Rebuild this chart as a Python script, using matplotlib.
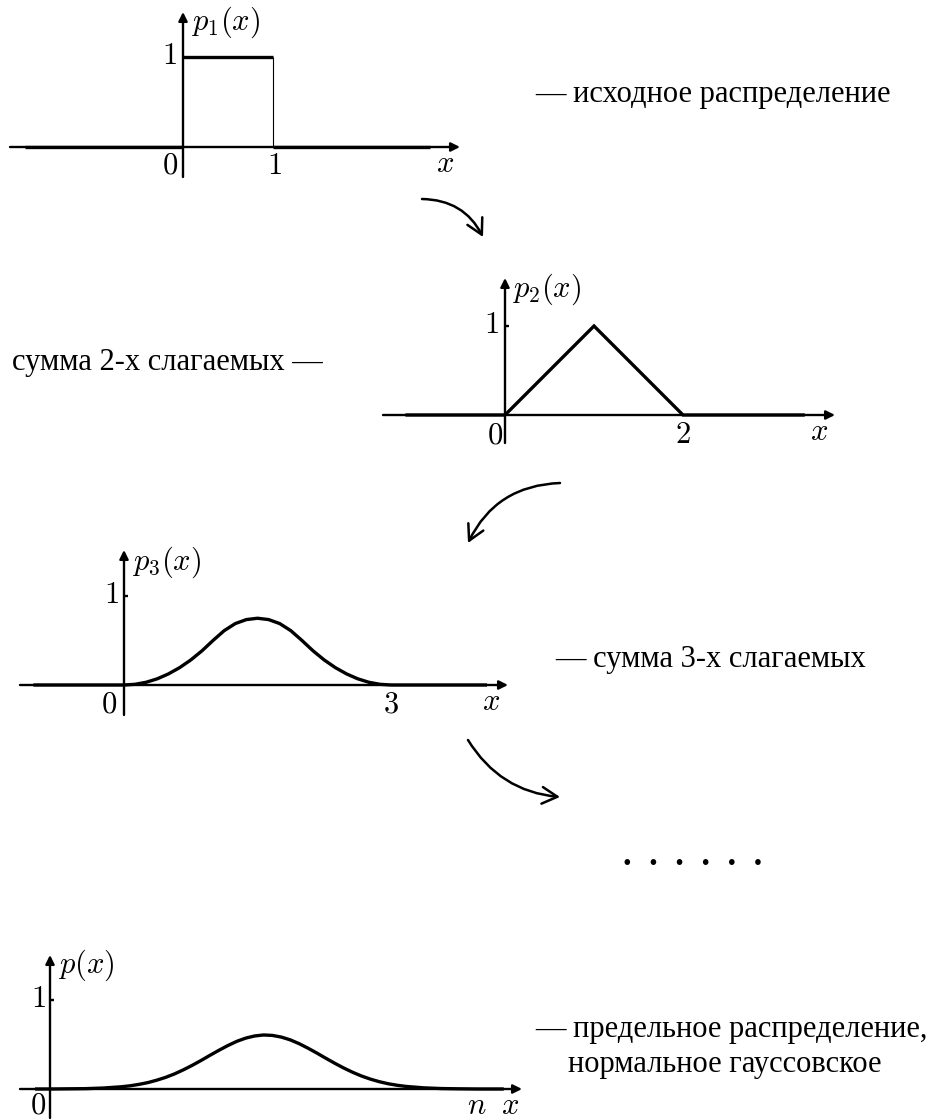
import matplotlib
matplotlib.use('Agg')
import matplotlib.pyplot as plt
from matplotlib.transforms import Affine2D

# ---------------- data ----------------
# p1: uniform density, step values on intervals
p1_edges = [-1.76, 0.0, 1.0, 2.74]
p1_vals = [0.0, 1.0, 0.0]

# p2: triangular density
p2_x = [-1.10, 0.0, 1.0, 2.0, 3.35]
p2_y = [0.0, 0.0, 1.0, 0.0, 0.0]

# p3: sum of three terms
p3_x = [-1.00, 0.0, 0.125, 0.25, 0.375, 0.5, 0.625, 0.75, 0.875, 1.0, 1.125,
        1.25, 1.375, 1.5, 1.625, 1.75, 1.875, 2.0, 2.125, 2.25, 2.375, 2.5,
        2.625, 2.75, 2.875, 3.0, 4.06]
p3_y = [0.0, 0.0, 0.008, 0.031, 0.070, 0.125, 0.195, 0.281, 0.383, 0.50, 0.61,
        0.69, 0.735, 0.75, 0.735, 0.69, 0.61, 0.50, 0.383, 0.281, 0.195, 0.125,
        0.070, 0.031, 0.008, 0.0, 0.0]

# p: limiting (normal) distribution
p4_x = [-0.15, 0.0, 0.4, 0.6, 0.8, 0.9, 1.0, 1.1, 1.2, 1.3, 1.4, 1.5, 1.6, 1.7,
        1.8, 1.9, 2.0, 2.1, 2.2, 2.3, 2.4, 2.5, 2.6, 2.7, 2.8, 2.9, 3.0, 3.1,
        3.2, 3.3, 3.4, 3.5, 3.6, 3.7, 3.8, 3.9, 4.0, 4.2, 4.4, 4.6, 4.8, 5.08]
p4_y = [0.0, 0.0, 0.004, 0.011, 0.025, 0.036, 0.052, 0.072, 0.099, 0.131, 0.170,
        0.216, 0.267, 0.322, 0.380, 0.436, 0.489, 0.536, 0.572, 0.596, 0.607,
        0.602, 0.583, 0.552, 0.509, 0.458, 0.403, 0.345, 0.289, 0.236, 0.188,
        0.146, 0.111, 0.082, 0.059, 0.042, 0.029, 0.013, 0.005, 0.002, 0.0, 0.0]

# tick labels
p1_xticks, p1_xlabels = [0, 1], ['$0$', '$1$']
p2_xticks, p2_xlabels = [0, 2], ['$0$', '$2$']
p3_xticks, p3_xlabels = [0, 3], ['$0$', '$3$']
p4_xticks, p4_xlabels = [0, 4.8], ['$0$', '$n$']
ylabels = ['$p_1(x)$', '$p_2(x)$', '$p_3(x)$', '$p(x)$']

captions = ['— исходное распределение',
            'сумма 2-х слагаемых —',
            '— сумма 3-х слагаемых',
            '— предельное распределение,',
            'нормальное гауссовское']

# ---------------- styling ----------------
W, H = 927, 1120
plt.rcParams['mathtext.fontset'] = 'cm'
plt.rcParams['font.family'] = ['Liberation Serif', 'DejaVu Serif']
AX_LW = 1.7
CURVE_LW = 2.4
LBL_FS = 22
TXT_FS = 22

fig = plt.figure(figsize=(W / 100, H / 100), dpi=100)
pix = Affine2D().scale(1 / W, -1 / H).translate(0, 1) + fig.transFigure
PT = 0.72  # points per pixel at dpi 100


def panel(origin, unit, xr, yr, ytick=True):
    """origin: pixel of (0,0); xr: (left,right) pixel of x-axis arrow; yr: (top,bottom) pixel of y-axis."""
    ox, oy = origin
    pad = 30
    x0, x1 = xr[0] - pad, xr[1] + pad
    y0, y1 = yr[0] - pad, yr[1] + pad
    ax = fig.add_axes([x0 / W, 1 - y1 / H, (x1 - x0) / W, (y1 - y0) / H])
    ax.set_xlim((x0 - ox) / unit, (x1 - ox) / unit)
    ax.set_ylim((oy - y1) / unit, (oy - y0) / unit)
    ax.axis('off')
    ap = dict(arrowstyle='-|>', lw=AX_LW, color='k', mutation_scale=13,
              shrinkA=0, shrinkB=0)
    ax.annotate('', xy=((xr[1] - ox) / unit, 0), xytext=((xr[0] - ox) / unit, 0),
                arrowprops=ap)
    ax.annotate('', xy=(0, (oy - yr[0]) / unit), xytext=(0, (oy - yr[1]) / unit),
                arrowprops=ap)
    if ytick:
        ax.plot([0, 4 / unit], [1, 1], color='k', lw=AX_LW, solid_capstyle='butt')
    return ax


def lbl(ax, s, xy, off, ha='center', va='center'):
    ax.annotate(s, xy=xy, xytext=(off[0] * PT, -off[1] * PT),
                textcoords='offset points', ha=ha, va=va, fontsize=LBL_FS)


# ---------- panel 1 ----------
ax1 = panel((183, 147), 90, (10, 460), (12, 177), ytick=False)
ax1.hlines(p1_vals, p1_edges[:-1], p1_edges[1:], colors='k', lw=CURVE_LW)
ax1.vlines(p1_edges[2:-1], 0, 1, colors='k', lw=0.8)
lbl(ax1, '$1$', (0, 1), (-14, 0))
for t, s in zip(p1_xticks, p1_xlabels):
    lbl(ax1, s, (t, 0), (-13 if t == 0 else 1, 19))
lbl(ax1, '$x$', (2.91, 0), (0, 17))
lbl(ax1, ylabels[0], (0, 0), (8, -125), ha='left')

# ---------- panel 2 ----------
ax2 = panel((505, 415), 89, (383, 835), (278, 443))
ax2.plot(p2_x, p2_y, color='k', lw=CURVE_LW, solid_joinstyle='miter')
lbl(ax2, '$1$', (0, 1), (-14, 0))
for t, s in zip(p2_xticks, p2_xlabels):
    lbl(ax2, s, (t, 0), (-10 if t == 0 else 0, 21))
lbl(ax2, '$x$', (3.53, 0), (0, 18))
lbl(ax2, ylabels[1], (0, 0), (7, -126), ha='left')

# ---------- panel 3 ----------
ax3 = panel((124, 685), 89, (20, 508), (550, 715))
ax3.plot(p3_x, p3_y, color='k', lw=CURVE_LW)
lbl(ax3, '$1$', (0, 1), (-13, 0))
for t, s in zip(p3_xticks, p3_xlabels):
    lbl(ax3, s, (t, 0), (-15 if t == 0 else 0, 20))
lbl(ax3, '$x$', (4.12, 0), (0, 17))
lbl(ax3, ylabels[2], (0, 0), (8, -123), ha='left')

# ---------- panel 4 ----------
ax4 = panel((50, 1089), 89, (20, 522), (955, 1118))
ax4.plot(p4_x, p4_y, color='k', lw=CURVE_LW)
lbl(ax4, '$1$', (0, 1), (-12, 0))
for t, s in zip(p4_xticks, p4_xlabels):
    lbl(ax4, s, (t, 0), (-12 if t == 0 else 0, 17))
lbl(ax4, '$x$', (5.17, 0), (0, 17))
lbl(ax4, ylabels[3], (0, 0), (8, -124), ha='left')

# ---------- captions ----------
cap_pos = [(535, 102), (12, 370), (555, 667), (535, 1037), (568, 1072)]
for s, (x, y) in zip(captions, cap_pos):
    fig.text(x, y, s, transform=pix, fontsize=TXT_FS, ha='left', va='baseline')

fig.text(693, 865, '.  .  .  .  .  .', transform=pix, fontsize=25,
         fontweight='bold', ha='center', va='baseline')

# ---------- curved arrows between panels ----------
arrows = [((422, 199), (483, 237), -0.3),
          ((560, 483), (468, 543), 0.3),
          ((468, 740), (560, 797), 0.25)]
for (a, b, r) in arrows:
    fig.add_artist(matplotlib.patches.FancyArrowPatch(
        a, b, transform=pix, connectionstyle=f'arc3,rad={r}',
        arrowstyle='->,head_length=0.55,head_width=0.3', mutation_scale=20,
        lw=1.8, color='k', shrinkA=0, shrinkB=0))

fig.savefig('out.png', dpi=100)
